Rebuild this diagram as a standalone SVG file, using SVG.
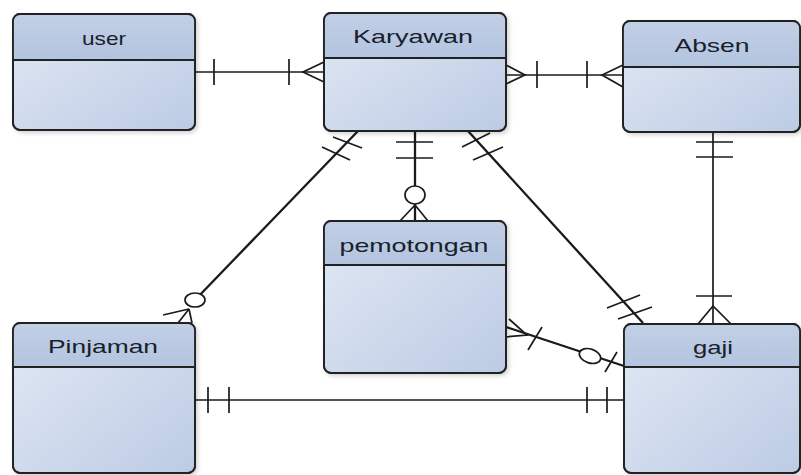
<svg xmlns="http://www.w3.org/2000/svg" width="801" height="475" viewBox="0 0 801 475">
<defs>
<linearGradient id="body" x1="0" y1="0" x2="1" y2="1">
<stop offset="0" stop-color="#e2e9f4"/>
<stop offset="1" stop-color="#bccbe4"/>
</linearGradient>
<linearGradient id="head" x1="0" y1="0" x2="0" y2="1">
<stop offset="0" stop-color="#c2d0e6"/>
<stop offset="1" stop-color="#b3c4df"/>
</linearGradient>
<filter id="sh" x="-10%" y="-10%" width="130%" height="130%">
<feDropShadow dx="2" dy="2" stdDeviation="2" flood-color="#000" flood-opacity="0.18"/>
</filter>
</defs>
<style>
.box{fill:url(#body);stroke:#222;stroke-width:1.8;filter:url(#sh)}
.hd{fill:url(#head);stroke:none}
.div{stroke:#222;stroke-width:1.8}
.out{fill:none;stroke:#222;stroke-width:1.8}
.t{font-family:"Liberation Sans",Arial,sans-serif;font-size:19px;fill:#18202c;text-anchor:middle}
.c line,.c polyline{stroke:#1a1a1a;stroke-width:1.7;fill:none}
.c .d{stroke-width:2.3}
.c ellipse{fill:#fff;stroke:#1a1a1a;stroke-width:1.7}
</style>
<rect width="801" height="475" fill="#fff"/>

<g id="connectors" class="c">
<!-- user - Karyawan -->
<line x1="195" y1="72" x2="324" y2="72"/>
<line x1="214" y1="59" x2="214" y2="85"/>
<line x1="289" y1="59" x2="289" y2="85"/>
<polyline points="324,62 303,72 324,82"/>
<!-- Karyawan - Absen -->
<line x1="506" y1="75" x2="623" y2="75"/>
<polyline points="506,65 525,75 506,84"/>
<line x1="537" y1="61" x2="537" y2="88"/>
<line x1="587" y1="61" x2="587" y2="88"/>
<polyline points="623,65 602,75 623,87"/>
<!-- Absen - gaji -->
<line x1="713" y1="132" x2="713" y2="324"/>
<line x1="696" y1="142" x2="733" y2="142"/>
<line x1="696" y1="157" x2="733" y2="157"/>
<line x1="696" y1="296" x2="732" y2="296"/>
<polyline points="698,324 713,306 731,324"/>
<!-- Karyawan - pemotongan -->
<line class="d" x1="415" y1="131" x2="415" y2="221"/>
<line x1="396" y1="142" x2="433" y2="142"/>
<line x1="396" y1="158" x2="433" y2="158"/>
<polyline points="400,221 415,205 428,221"/>
<ellipse cx="415" cy="195" rx="10" ry="9"/>
<!-- Karyawan - Pinjaman -->
<line class="d" x1="358" y1="131" x2="195" y2="300"/>
<line x1="333" y1="137" x2="362" y2="148"/>
<line x1="322" y1="147" x2="350" y2="160"/>
<line x1="189" y1="309" x2="163" y2="315"/>
<line x1="189" y1="309" x2="178" y2="323"/>
<line x1="189" y1="309" x2="192" y2="323"/>
<ellipse cx="195" cy="300" rx="10" ry="7"/>
<!-- Karyawan - gaji -->
<line class="d" x1="468" y1="131" x2="643" y2="323"/>
<line x1="462" y1="147" x2="490" y2="133"/>
<line x1="473" y1="160" x2="503" y2="147"/>
<line x1="607" y1="308" x2="640" y2="295"/>
<line x1="618" y1="319" x2="652" y2="307"/>
<!-- Pinjaman - gaji -->
<line x1="195" y1="400" x2="624" y2="400"/>
<line x1="208" y1="387" x2="208" y2="413"/>
<line x1="229" y1="387" x2="229" y2="413"/>
<line x1="587" y1="387" x2="587" y2="413"/>
<line x1="607" y1="387" x2="607" y2="413"/>
<!-- pemotongan - gaji -->
<line class="d" x1="506" y1="327" x2="624" y2="366"/>
<polyline points="509,319 527,335 505,337"/>
<line x1="528" y1="350" x2="542" y2="327"/>
<ellipse cx="590" cy="356" rx="11" ry="7" transform="rotate(18 590 356)"/>
<line x1="605" y1="372" x2="617" y2="352"/>
</g>

<g id="user">
<rect class="box" x="13" y="14" width="182" height="116" rx="7"/>
<path class="hd" d="M13,60 V21 a7,7 0 0 1 7,-7 H188 a7,7 0 0 1 7,7 V60 Z"/>
<line class="div" x1="13" y1="60" x2="195" y2="60"/>
<rect class="out" x="13" y="14" width="182" height="116" rx="7"/>
<text class="t" x="104" y="45" textLength="44" lengthAdjust="spacingAndGlyphs">user</text>
</g>

<g id="karyawan">
<rect class="box" x="324" y="13" width="182" height="118" rx="7"/>
<path class="hd" d="M324,58 V20 a7,7 0 0 1 7,-7 H499 a7,7 0 0 1 7,7 V58 Z"/>
<line class="div" x1="324" y1="58" x2="506" y2="58"/>
<rect class="out" x="324" y="13" width="182" height="118" rx="7"/>
<text class="t" x="413" y="43" textLength="120" lengthAdjust="spacingAndGlyphs">Karyawan</text>
</g>

<g id="absen">
<rect class="box" x="623" y="21" width="177" height="111" rx="7"/>
<path class="hd" d="M623,67 V28 a7,7 0 0 1 7,-7 H793 a7,7 0 0 1 7,7 V67 Z"/>
<line class="div" x1="623" y1="67" x2="800" y2="67"/>
<rect class="out" x="623" y="21" width="177" height="111" rx="7"/>
<text class="t" x="712" y="52" textLength="75" lengthAdjust="spacingAndGlyphs">Absen</text>
</g>

<g id="pemotongan">
<rect class="box" x="324" y="221" width="182" height="152" rx="7"/>
<path class="hd" d="M324,265 V228 a7,7 0 0 1 7,-7 H499 a7,7 0 0 1 7,7 V265 Z"/>
<line class="div" x1="324" y1="265" x2="506" y2="265"/>
<rect class="out" x="324" y="221" width="182" height="152" rx="7"/>
<text class="t" x="414" y="252" textLength="149" lengthAdjust="spacingAndGlyphs">pemotongan</text>
</g>

<g id="pinjaman">
<rect class="box" x="13" y="323" width="182" height="150" rx="7"/>
<path class="hd" d="M13,367 V330 a7,7 0 0 1 7,-7 H188 a7,7 0 0 1 7,7 V367 Z"/>
<line class="div" x1="13" y1="367" x2="195" y2="367"/>
<rect class="out" x="13" y="323" width="182" height="150" rx="7"/>
<text class="t" x="103" y="353" textLength="110" lengthAdjust="spacingAndGlyphs">Pinjaman</text>
</g>

<g id="gaji">
<rect class="box" x="624" y="324" width="176" height="149" rx="7"/>
<path class="hd" d="M624,367 V331 a7,7 0 0 1 7,-7 H793 a7,7 0 0 1 7,7 V367 Z"/>
<line class="div" x1="624" y1="367" x2="800" y2="367"/>
<rect class="out" x="624" y="324" width="176" height="149" rx="7"/>
<text class="t" x="713" y="354" textLength="40" lengthAdjust="spacingAndGlyphs">gaji</text>
</g>
</svg>
